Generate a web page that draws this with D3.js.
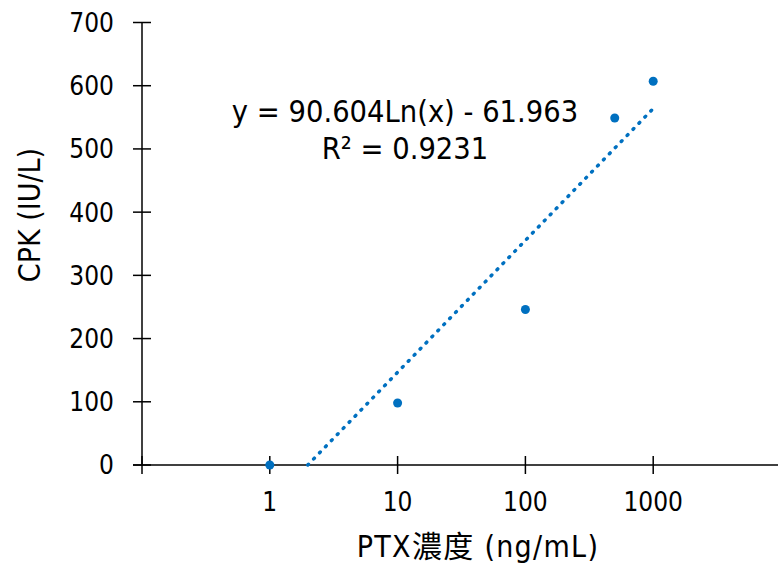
<!DOCTYPE html>
<html>
<head>
<meta charset="utf-8">
<script src="https://cdn.jsdelivr.net/npm/d3@7"></script>
<style>
  body { margin: 0; background: #fff; }
  svg { display: block; font-family: "DejaVu Sans Condensed", "DejaVu Sans", sans-serif; font-stretch: condensed; }
</style>
</head>
<body>
<script>
// PTX concentration (ng/mL) vs CPK (IU/L)
const concentrations = [1, 10, 100, 500, 1000];
const cpkValues = [0, 98, 246, 549, 607];
const xTickValues = [1, 10, 100, 1000];
const yTickValues = [0, 100, 200, 300, 400, 500, 600, 700];
const trendSlope = 90.604;
const trendIntercept = -61.963;
const trendEquation = "y = 90.604Ln(x) - 61.963";
const trendR2 = "R² = 0.9231";

const width = 778;
const height = 575;
const blue = "#0070c0";

const svg = d3.select("body")
	.append("svg")
	.attr("width", width)
	.attr("height", height);

const x = d3.scaleLog().domain([0.1, 10000]).range([142, 781]);
const y = d3.scaleLinear().domain([0, 700]).range([465, 22.5]);

// y axis with crossing ticks
const yAxis = svg.append("g").attr("transform", "translate(142,0)");
yAxis.append("line")
	.attr("y1", y(0)).attr("y2", y(700))
	.attr("stroke", "#000").attr("stroke-width", 1.5);
yAxis.selectAll(".tick")
	.data(yTickValues)
	.enter()
	.append("line")
	.attr("x1", -9).attr("x2", 9)
	.attr("y1", (d) => y(d)).attr("y2", (d) => y(d))
	.attr("stroke", "#000").attr("stroke-width", 1.5);
yAxis.selectAll("text")
	.data(yTickValues)
	.enter()
	.append("text")
	.attr("x", -28)
	.attr("y", (d) => y(d))
	.attr("dy", "0.36em")
	.attr("text-anchor", "end")
	.style("font-size", "26px")
	.text((d) => d);

// x axis
const xAxis = svg.append("g").attr("transform", `translate(0,${y(0)})`);
xAxis.append("line")
	.attr("x1", 133).attr("x2", width)
	.attr("stroke", "#000").attr("stroke-width", 1.5);
xAxis.selectAll(".tick")
	.data([0.1, ...xTickValues, 10000])
	.enter()
	.append("line")
	.attr("x1", (d) => x(d)).attr("x2", (d) => x(d))
	.attr("y1", -9).attr("y2", 9)
	.attr("stroke", "#000").attr("stroke-width", 1.5);
xAxis.selectAll("text")
	.data(xTickValues)
	.enter()
	.append("text")
	.attr("x", (d) => x(d))
	.attr("y", 46)
	.attr("text-anchor", "middle")
	.style("font-size", "26px")
	.text((d) => d);

// axis titles
svg.append("text")
	.attr("transform", "translate(40,215) rotate(-90)")
	.attr("text-anchor", "middle")
	.style("font-size", "30px")
	.text("CPK (IU/L)");

svg.append("text")
	.attr("x", 478)
	.attr("y", 557)
	.attr("text-anchor", "middle")
	.style("font-size", "30px")
	.style("letter-spacing", "1.3px")
	.style("font-family", "'DejaVu Sans Condensed', 'DejaVu Sans', 'Noto Sans CJK TC', sans-serif")
	.text("PTX濃度 (ng/mL)");

// log trendline from y=0 to the last concentration
const xStart = Math.exp(-trendIntercept / trendSlope);
const trendX = d3.range(0, 101).map((i) => xStart * Math.pow(1000 / xStart, i / 100));
const line = d3.line()
	.x((d) => x(d))
	.y((d) => y(trendSlope * Math.log(d) + trendIntercept));
svg.append("path")
	.datum(trendX)
	.attr("d", line)
	.attr("fill", "none")
	.attr("stroke", blue)
	.attr("stroke-width", 3.5)
	.attr("stroke-linecap", "round")
	.attr("stroke-dasharray", "1 7.5");

// points
svg.append("g")
	.selectAll("circle")
	.data(concentrations)
	.enter()
	.append("circle")
	.attr("cx", (d) => x(d))
	.attr("cy", (d, i) => y(cpkValues[i]))
	.attr("r", 4.5)
	.attr("fill", blue);

// trendline label
const label = svg.append("text")
	.attr("text-anchor", "middle")
	.style("font-size", "30.5px");
label.append("tspan").attr("x", 405).attr("y", 122).text(trendEquation);
label.append("tspan").attr("x", 405).attr("y", 159).text(trendR2);
</script>
</body>
</html>
